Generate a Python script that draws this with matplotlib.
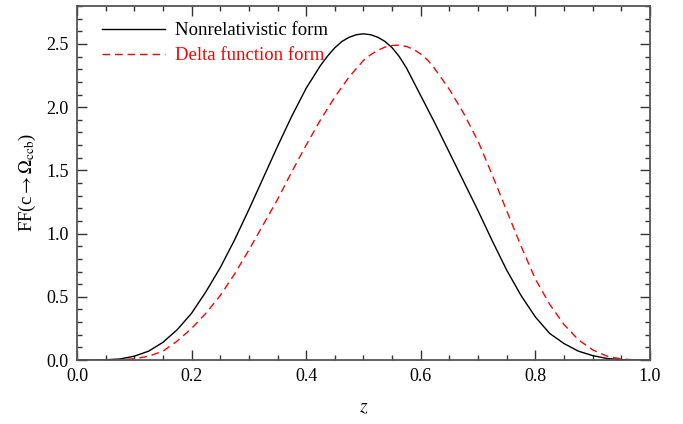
import numpy as np
import matplotlib
matplotlib.use("Agg")
import matplotlib.pyplot as plt
from matplotlib.ticker import MultipleLocator

plt.rcParams['font.family'] = ['Liberation Serif', 'DejaVu Serif']
plt.rcParams['mathtext.fontset'] = 'stix'

# curves (denser near the peaks)
z_nonrel = [0.0, 0.025, 0.05, 0.075, 0.1, 0.125, 0.15, 0.175, 0.2, 0.225,
            0.25, 0.275, 0.3, 0.325, 0.35, 0.375, 0.4, 0.425, 0.4375, 0.45,
            0.4625, 0.475, 0.4875, 0.5, 0.5125, 0.525, 0.5375, 0.55, 0.5625,
            0.575, 0.6, 0.625, 0.65, 0.675, 0.7, 0.725, 0.75, 0.775, 0.8,
            0.825, 0.85, 0.875, 0.9, 0.925, 0.95, 0.975, 1.0]
nonrel = [0.0, 0.0, 0.002, 0.008, 0.03, 0.07, 0.14, 0.24, 0.37, 0.54,
          0.73, 0.95, 1.19, 1.44, 1.69, 1.93, 2.15, 2.33, 2.405, 2.47,
          2.52, 2.553, 2.573, 2.58, 2.573, 2.553, 2.52, 2.47, 2.40,
          2.31, 2.09, 1.87, 1.64, 1.41, 1.18, 0.94, 0.71, 0.51, 0.34,
          0.21, 0.13, 0.07, 0.035, 0.012, 0.003, 0.0, 0.0]

z_delta = [0.0, 0.025, 0.05, 0.075, 0.1, 0.125, 0.15, 0.175, 0.2, 0.225,
           0.25, 0.275, 0.3, 0.325, 0.35, 0.375, 0.4, 0.425, 0.45, 0.475,
           0.5, 0.5125, 0.525, 0.5375, 0.55, 0.5625, 0.575, 0.5875, 0.6,
           0.6125, 0.625, 0.65, 0.675, 0.7, 0.725, 0.75, 0.775, 0.8, 0.825,
           0.85, 0.875, 0.9, 0.925, 0.95, 0.975, 1.0]
delta = [0.0, 0.0, 0.0, 0.002, 0.01, 0.03, 0.07, 0.15, 0.25, 0.37,
         0.51, 0.68, 0.87, 1.07, 1.27, 1.49, 1.70, 1.90, 2.08, 2.24,
         2.37, 2.415, 2.45, 2.475, 2.488, 2.49, 2.48, 2.457, 2.42,
         2.37, 2.30, 2.14, 1.95, 1.73, 1.46, 1.18, 0.90, 0.64, 0.44,
         0.28, 0.16, 0.08, 0.03, 0.008, 0.001, 0.0]

fig = plt.figure(figsize=(6.83, 4.24), dpi=100)
ax = fig.add_axes([0.1127, 0.1509, 0.839, 0.8349])

ax.plot(z_nonrel, nonrel, color="black", lw=1.0, label="Nonrelativistic form")
ax.plot(z_delta, delta, color="red", lw=1.0, dashes=(5.5, 3.5), label="Delta function form")

ax.set_xlim(0, 1)
ax.set_ylim(0, 2.8)
ax.xaxis.set_major_locator(MultipleLocator(0.2))
ax.xaxis.set_minor_locator(MultipleLocator(0.05))
ax.yaxis.set_major_locator(MultipleLocator(0.5))
ax.yaxis.set_minor_locator(MultipleLocator(0.1))
ax.tick_params(which="both", direction="in", top=True, right=True, labelsize=13,
               color="#333333")
ax.tick_params(which="major", length=7, width=1.0, pad=6)
ax.tick_params(which="minor", length=3.5, width=1.0)
for s in ax.spines.values():
    s.set_linewidth(1.3)
    s.set_color("#555555")

ax.set_xlabel("$z$", fontsize=14, labelpad=10)
ax.set_ylabel(r"FF(c$\rightarrow\Omega_{\mathrm{ccb}}$)", fontsize=13.5, labelpad=6)

leg = ax.legend(loc="upper left", frameon=False, fontsize=13.5, handlelength=3.4,
                handletextpad=0.5, borderaxespad=0.0, labelspacing=0.4,
                bbox_to_anchor=(0.03, 0.975))
for txt, line in zip(leg.get_texts(), leg.get_lines()):
    txt.set_color(line.get_color())

fig.savefig("out.png", dpi=100)
